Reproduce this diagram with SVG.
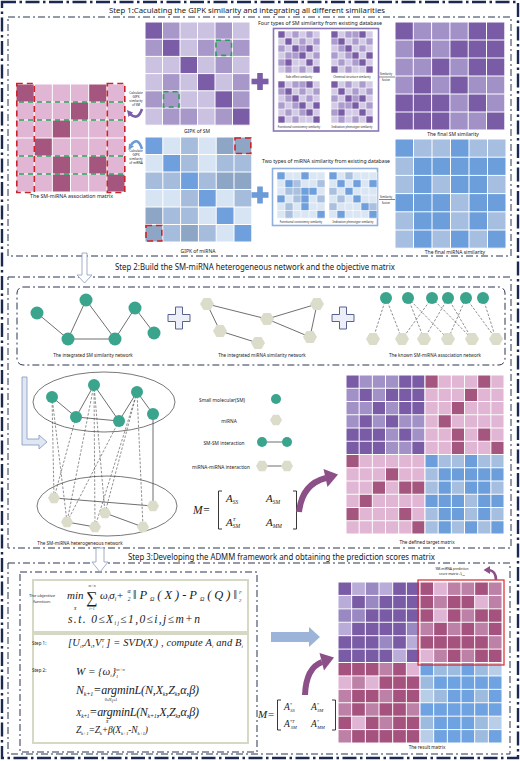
<svg xmlns="http://www.w3.org/2000/svg" width="520" height="761" viewBox="0 0 520 761">
<style>
.t{font-family:"Noto Sans","Liberation Sans",Arial,sans-serif;fill:#1a1a1a}
.m{font-family:"Liberation Serif","Times New Roman",serif;font-style:italic;fill:#1a1a1a}
.s{font-family:"Liberation Serif","Times New Roman",serif;fill:#1a1a1a}
.c{text-anchor:middle}
.box{fill:none;stroke:#2b3553;stroke-width:1;stroke-dasharray:7 3 2 3}
.outer{fill:none;stroke:#1b2950;stroke-width:2.4;stroke-dasharray:14 3.5 2.5 3.5}
.g{fill:none;stroke:#fff;stroke-width:1;vector-effect:non-scaling-stroke}
.gt{fill:none;stroke:#fff;stroke-width:0.6;vector-effect:non-scaling-stroke}
.e{stroke:#4a4a4a;stroke-width:0.8;fill:none}
.ed{stroke:#444;stroke-width:0.6;fill:none;stroke-dasharray:2.5 1.6}
.sm{fill:#3aa48d}
.mi{fill:#dcdccb}
.rd{fill:none;stroke:#cc2229;stroke-width:1.6;stroke-dasharray:6 4}
.gd{fill:none;stroke:#2a9d5c;stroke-width:1.6;stroke-dasharray:5 4}
.pan{fill:#fff;stroke:#d5d9c4;stroke-width:2}
</style>
<defs>
<path id="grid6" class="g" d="M1 0V6M2 0V6M3 0V6M4 0V6M5 0V6M0 1H6M0 2H6M0 3H6M0 4H6M0 5H6M0 0H6V6H0Z"/>
<path id="grid6t" class="gt" d="M1 0V6M2 0V6M3 0V6M4 0V6M5 0V6M0 1H6M0 2H6M0 3H6M0 4H6M0 5H6M0 0H6V6H0Z"/>
<polygon id="hx" points="7,0 3.5,6.1 -3.5,6.1 -7,0 -3.5,-6.1 3.5,-6.1"/>
<polygon id="hxs" points="6,0 3,5.2 -3,5.2 -6,0 -3,-5.2 3,-5.2"/>
<g id="assoc"><rect width="6" height="6" fill="#e1b5d4"/><path fill="#a5567f" d="M0 0h1v1h-1zM4 0h1v1h-1zM3 1h1v1h-1zM2 2h1v1h-1zM1 3h1v1h-1zM2 4h1v1h-1zM4 4h1v1h-1zM2 5h1v1h-1zM5 5h1v1h-1z"/><use href="#grid6"/></g>
<g id="assocT"><rect width="6" height="6" fill="#e1b5d4"/><path fill="#a5567f" d="M0 0h1v1h-1zM0 4h1v1h-1zM1 3h1v1h-1zM2 2h1v1h-1zM3 1h1v1h-1zM4 2h1v1h-1zM4 4h1v1h-1zM5 2h1v1h-1zM5 5h1v1h-1z"/><use href="#grid6"/></g>
<g id="smF"><rect width="6" height="6" fill="#a291c7"/><path fill="#7a5ca6" d="M0 0h1v1h-1zM4 0h2v1h-2zM1 1h1v1h-1zM3 1h3v1h-3zM2 2h1v1h-1zM4 2h2v1h-2zM1 3h1v1h-1zM3 3h1v1h-1zM0 4h3v1h-3zM4 4h1v1h-1zM0 5h3v1h-3zM5 5h1v1h-1z"/><use href="#grid6"/></g>
<g id="miF"><rect width="6" height="6" fill="#a6bfe1"/><path fill="#6b9edb" d="M0 0h1v1h-1zM3 0h1v1h-1zM1 1h5v1h-5zM1 2h1v1h-1zM3 2h2v1h-2zM0 3h3v1h-3zM4 3h2v1h-2zM1 4h2v1h-2zM4 4h1v1h-1zM1 5h1v1h-1zM3 5h1v1h-1zM5 5h1v1h-1z"/><use href="#grid6"/></g>
<g id="gSM"><rect width="6" height="6" fill="#cbc1e1"/><path fill="#a898c9" d="M1 0h1v1h-1zM4 0h1v1h-1zM0 1h1v1h-1zM3 1h3v1h-3zM4 2h1v1h-1zM1 3h1v1h-1zM5 3h1v1h-1zM0 4h2v1h-2zM5 4h1v1h-1zM1 5h2v1h-2zM4 5h1v1h-1z"/><path fill="#7b5ca7" d="M0 0h1v1h-1zM1 1h1v1h-1zM2 2h1v1h-1zM3 3h1v1h-1zM4 4h1v1h-1zM5 5h1v1h-1z"/><use href="#grid6"/></g>
<g id="gMI"><rect width="6" height="6" fill="#d6e4f4"/><path fill="#a5bcdc" d="M2 0h1v1h-1zM2 1h1v1h-1zM4 1h2v1h-2zM0 2h2v1h-2zM3 2h1v1h-1zM2 3h1v1h-1zM5 3h1v1h-1zM1 4h2v1h-2zM1 5h1v1h-1zM3 5h1v1h-1z"/><path fill="#8ea6c6" d="M4 0h2v1h-2zM4 2h2v1h-2zM0 4h1v1h-1zM0 5h1v1h-1zM2 5h1v1h-1z"/><path fill="#6f9fdc" d="M0 0h1v1h-1zM1 1h1v1h-1zM2 2h1v1h-1zM3 3h1v1h-1zM4 4h1v1h-1zM5 5h1v1h-1z"/><use href="#grid6"/></g>
<g id="miniA"><rect width="6" height="6" fill="#d3cae6"/><path fill="#ab9ccd" d="M2 0h1v1h-1zM4 0h1v1h-1zM3 1h1v1h-1zM5 1h1v1h-1zM0 2h1v1h-1zM3 2h1v1h-1zM1 3h2v1h-2zM5 3h1v1h-1zM0 4h1v1h-1zM1 5h1v1h-1zM3 5h1v1h-1z"/><path fill="#7a5ca6" d="M0 0h1v1h-1zM1 1h1v1h-1zM2 2h1v1h-1zM4 2h1v1h-1zM3 3h1v1h-1zM1 4h1v1h-1zM4 4h1v1h-1zM5 5h1v1h-1z"/><use href="#grid6t"/></g>
<g id="miniB"><rect width="6" height="6" fill="#d3cae6"/><path fill="#ab9ccd" d="M2 0h2v1h-2zM0 1h1v1h-1zM3 1h1v1h-1zM5 1h1v1h-1zM1 2h1v1h-1zM4 2h1v1h-1zM0 3h1v1h-1zM2 3h1v1h-1zM1 4h1v1h-1zM3 4h1v1h-1zM2 5h1v1h-1z"/><path fill="#7a5ca6" d="M0 0h1v1h-1zM4 0h1v1h-1zM1 1h1v1h-1zM2 2h1v1h-1zM3 3h1v1h-1zM5 3h1v1h-1zM4 4h1v1h-1zM0 5h1v1h-1zM5 5h1v1h-1z"/><use href="#grid6t"/></g>
<g id="miniC"><rect width="6" height="6" fill="#dbe6f4"/><path fill="#a9c0df" d="M2 1h1v1h-1zM5 1h1v1h-1zM1 2h2v1h-2zM2 3h1v1h-1zM5 3h1v1h-1zM1 4h1v1h-1zM1 5h1v1h-1z"/><path fill="#6f9fdc" d="M0 0h1v1h-1zM3 0h1v1h-1zM1 1h1v1h-1zM3 2h2v1h-2zM0 3h1v1h-1zM3 3h1v1h-1zM3 4h1v1h-1zM5 5h1v1h-1z"/><use href="#grid6t"/></g>
<g id="miniD"><rect width="6" height="6" fill="#dbe6f4"/><path fill="#a9c0df" d="M2 0h1v1h-1zM0 2h1v1h-1zM1 3h1v1h-1zM0 4h1v1h-1zM5 4h1v1h-1z"/><path fill="#6f9fdc" d="M0 0h1v1h-1zM1 1h1v1h-1zM3 1h1v1h-1zM5 1h1v1h-1zM2 2h1v1h-1zM3 3h1v1h-1zM4 4h1v1h-1zM1 5h1v1h-1zM5 5h1v1h-1z"/><use href="#grid6t"/></g>
<g id="resTL"><rect width="6" height="6" fill="#7a5ca6"/><path fill="#b9acd8" d="M1 0h1v1h-1zM3 0h1v1h-1zM0 1h1v1h-1zM0 3h1v1h-1zM5 4h1v1h-1zM4 5h1v1h-1z"/><path fill="#9a88c2" d="M2 0h1v1h-1zM2 1h1v1h-1zM0 2h2v1h-2zM5 3h1v1h-1zM3 4h1v1h-1z"/><use href="#grid6"/></g>
<g id="resTR"><rect width="6" height="6" fill="#a5527f"/><path fill="#dfb4d4" d="M1 0h1v1h-1zM4 1h1v1h-1zM1 2h1v1h-1zM0 5h1v1h-1z"/><path fill="#bd80a7" d="M2 0h2v1h-2zM5 0h1v1h-1zM1 1h1v1h-1zM5 1h1v1h-1zM3 2h1v1h-1zM0 3h1v1h-1zM2 3h1v1h-1zM4 3h1v1h-1zM5 4h1v1h-1zM1 5h1v1h-1zM3 5h1v1h-1z"/><use href="#grid6"/></g>
<g id="resBL"><rect width="6" height="6" fill="#a5527f"/><path fill="#dfb4d4" d="M5 0h1v1h-1zM0 1h1v1h-1zM2 1h1v1h-1zM1 4h1v1h-1z"/><path fill="#bd80a7" d="M3 0h1v1h-1zM1 1h1v1h-1zM0 2h1v1h-1zM3 2h1v1h-1zM0 3h1v1h-1zM2 3h1v1h-1zM5 3h1v1h-1zM3 4h1v1h-1zM0 5h1v1h-1z"/><use href="#grid6"/></g>
<g id="resBR"><rect width="6" height="6" fill="#6fa2e0"/><path fill="#9dbadf" d="M1 0h2v1h-2zM4 0h1v1h-1zM0 1h1v1h-1zM1 2h1v1h-1zM4 2h1v1h-1zM0 4h1v1h-1zM4 4h1v1h-1zM4 5h1v1h-1z"/><path fill="#b8cde7" d="M5 0h1v1h-1zM0 2h1v1h-1zM5 4h1v1h-1zM0 5h1v1h-1z"/><use href="#grid6"/></g>
</defs>
<rect width="520" height="761" fill="#fff"/>

<g id="frames">
<rect class="outer" x="2" y="2" width="516" height="756"/>
<rect class="box" x="8" y="17" width="503" height="239"/>
<rect class="box" x="8" y="277" width="503" height="271"/>
<rect class="box" x="8" y="563" width="502" height="191"/>
<rect class="box" x="17" y="287" width="488" height="78" rx="6"/>
<rect class="box" x="20" y="572" width="237" height="180"/>
<text class="t c" x="247" y="12.5" font-size="7.2" textLength="276" lengthAdjust="spacingAndGlyphs">Step 1:Caculating the GIPK similarity and integrating all different similarities</text>
<text class="t c" x="255" y="270" font-size="8.2" textLength="280" lengthAdjust="spacingAndGlyphs">Step 2:Build the SM-miRNA heterogeneous network and the objective matrix</text>
<text class="t c" x="281.5" y="559.5" font-size="8.2" textLength="307" lengthAdjust="spacingAndGlyphs">Step 3:Developing the ADMM framework and obtaining the prediction scores matrix</text>
</g>

<g id="assoc-matrix">
<use href="#assoc" transform="translate(16,84) scale(18.17,18)"/>
<rect class="rd" x="16.8" y="83.5" width="17.5" height="109" stroke-dasharray="10 6"/>
<rect class="rd" x="107.3" y="83.5" width="17.5" height="109" stroke-dasharray="10 6"/>
<path class="gd" d="M19 102H124M19 120H124M19 156H124M19 174H124" stroke-dasharray="10 5"/>
<text class="t c" x="71.5" y="198" font-size="5" textLength="83" lengthAdjust="spacingAndGlyphs">The SM-miRNA association matrix</text>
</g>

<g id="calc-labels">
<text class="t c" font-size="3.1"><tspan x="136" y="94">Calculate</tspan><tspan x="136" y="98">GIPK</tspan><tspan x="136" y="102">similarity</tspan><tspan x="136" y="106">of SM</tspan></text>
<text class="t c" font-size="3.1"><tspan x="136" y="152">Calculate</tspan><tspan x="136" y="156">GIPK</tspan><tspan x="136" y="160">similarity</tspan><tspan x="136" y="164">of miRNA</tspan></text>
</g>

<g id="gipk-sm">
<use href="#gSM" transform="translate(145,22) scale(17.5,17.2)"/>
<rect class="gd" x="216" y="40.2" width="15.5" height="15.2"/>
<rect class="gd" x="163.5" y="91.8" width="15.5" height="15.2"/>
<text class="t c" x="197" y="133" font-size="5">GIPK of SM</text>
</g>

<g id="plus-sm" fill="#7b5ea7"><rect x="251.5" y="78.7" width="17" height="5.6"/><rect x="257.2" y="73" width="5.6" height="17"/></g>

<g id="four-types">
<text class="t c" x="320" y="25" font-size="4.6" textLength="124" lengthAdjust="spacingAndGlyphs">Four types of SM similarity from existing database</text>
<rect x="273.5" y="28.5" width="105" height="102.5" fill="#fff" stroke="#8a76b6" stroke-width="1.6"/>
<use href="#miniA" transform="translate(278,31) scale(7,7)"/>
<use href="#miniB" transform="translate(331,31) scale(7,7)"/>
<use href="#miniB" transform="translate(278,81) scale(7,7)"/>
<use href="#miniA" transform="translate(331,81) scale(7,7)"/>
<text class="t c" x="299" y="77.8" font-size="2.8">Side effect similarity</text>
<text class="t c" x="352" y="77.8" font-size="2.8">Chemical structure similarity</text>
<text class="t c" x="299" y="128" font-size="2.8">Functional consistency similarity</text>
<text class="t c" x="352" y="128" font-size="2.8">Indication phenotype similarity</text>
</g>

<g id="final-sm">
<use href="#smF" transform="translate(395,22) scale(18.3,18)"/>
<text class="t c" x="453" y="136" font-size="5">The final SM similarity</text>
</g>

<g id="gipk-mi">
<use href="#gMI" transform="translate(145,137) scale(17.8,17.5)"/>
<rect class="rd" x="235" y="138" width="15.8" height="15.5"/>
<rect class="rd" x="146" y="225.5" width="15.8" height="15.5"/>
<text class="t c" x="198" y="252.5" font-size="5">GIPK of miRNA</text>
</g>

<g id="plus-mi" fill="#6c9bd8"><rect x="251.5" y="192.2" width="17" height="5.6"/><rect x="257.2" y="186.5" width="5.6" height="17"/></g>

<g id="two-types">
<text class="t c" x="326" y="163" font-size="4.6" textLength="128" lengthAdjust="spacingAndGlyphs">Two types of miRNA similarity from existing database</text>
<rect x="272.5" y="168.5" width="105" height="57" fill="#fff" stroke="#8fb0dc" stroke-width="1.6"/>
<use href="#miniC" transform="translate(277,172) scale(8,7.7)"/>
<use href="#miniD" transform="translate(329,172) scale(8,7.7)"/>
<text class="t c" x="301" y="223" font-size="2.8">Functional consistency similarity</text>
<text class="t c" x="353" y="223" font-size="2.8">Indication phenotype similarity</text>
</g>

<g id="final-mi">
<use href="#miF" transform="translate(395,139) scale(18.5,18.2)"/>
<text class="t c" x="455" y="254" font-size="5">The final miRNA similarity</text>
</g>

<g id="fusion-labels">
<text class="t c" x="386" y="74.5" font-size="2.8">Similarity</text>
<text class="t c" x="386" y="81" font-size="2.8">fusion</text>
<text class="t c" x="386" y="197.5" font-size="2.8">Similarity</text>
<text class="t c" x="386" y="204" font-size="2.8">fusion</text>
</g>

<g id="sm-network">
<path class="e" d="M37,313L68,339L86,300L115,339L135,308L154,333M68,339L115,339"/>
<g class="sm"><circle cx="37" cy="313" r="6.5"/><circle cx="86" cy="300" r="6.5"/><circle cx="68" cy="339" r="6.5"/><circle cx="115" cy="339" r="6.5"/><circle cx="135" cy="308" r="6.5"/><circle cx="154" cy="333" r="6.5"/></g>
<text class="t c" x="93" y="357" font-size="4.6">The integrated SM similarity network</text>
</g>
<g id="plus-a"><path d="M175.5,307H182.5V314.5H190V321.5H182.5V329H175.5V321.5H168V314.5H175.5Z" fill="#eceef8" stroke="#59628c" stroke-width="1"/></g>
<g id="mi-network">
<path class="e" d="M207,304L267,319L317,304L310,337L267,319M207,304L220,331L258,343"/>
<g class="mi"><use href="#hx" x="207" y="304"/><use href="#hx" x="267" y="319"/><use href="#hx" x="220" y="331"/><use href="#hx" x="258" y="343"/><use href="#hx" x="317" y="304"/><use href="#hx" x="310" y="337"/></g>
<text class="t c" x="262" y="357" font-size="4.6">The integrated miRNA similarity network</text>
</g>
<g id="plus-b"><path d="M339.5,307H346.5V314.5H354V321.5H346.5V329H339.5V321.5H332V314.5H339.5Z" fill="#eceef8" stroke="#59628c" stroke-width="1"/></g>
<g id="bipartite">
<path class="ed" d="M386,298L373,339M386,298L402,339M408,298L424,339M408,298L448,339M432,298L402,339M432,298L472,339M448,298L424,339M448,298L472,339M466,298L448,339M466,298L496,339M483,298L496,339"/>
<g class="sm"><circle cx="386" cy="298" r="6"/><circle cx="408" cy="298" r="6"/><circle cx="432" cy="298" r="6"/><circle cx="448" cy="298" r="6"/><circle cx="466" cy="298" r="6"/><circle cx="483" cy="298" r="6"/></g>
<g class="mi"><use href="#hx" x="373" y="339"/><use href="#hx" x="402" y="339"/><use href="#hx" x="424" y="339"/><use href="#hx" x="448" y="339"/><use href="#hx" x="472" y="339"/><use href="#hx" x="496" y="339"/></g>
<text class="t c" x="435" y="357" font-size="4.6">The known SM-miRNA association network</text>
</g>

<g id="hetero-network">
<ellipse cx="104" cy="402" rx="71" ry="30" fill="none" stroke="#555" stroke-width="0.8"/>
<ellipse cx="107" cy="506" rx="70" ry="30" fill="none" stroke="#555" stroke-width="0.8"/>
<path class="ed" d="M52,397L54,498M52,397L67,522M94,385L67,522M94,385L95,527M94,385L105,513M76,417L54,498M119,421L67,522M137,392L105,513M137,392L95,527M137,392L143,527"/>
<path class="e" d="M52,397L76,417L94,385L119,421L137,392L153,414M76,417L119,421M153,414L153,506M54,498L153,506M67,522L95,527M105,513L143,527"/>
<g class="sm"><circle cx="52" cy="397" r="6"/><circle cx="94" cy="385" r="6"/><circle cx="76" cy="417" r="6"/><circle cx="119" cy="421" r="6"/><circle cx="137" cy="392" r="6"/><circle cx="153" cy="414" r="6"/></g>
<g class="mi"><use href="#hxs" x="54" y="498"/><use href="#hxs" x="67" y="522"/><use href="#hxs" x="95" y="527"/><use href="#hxs" x="105" y="513"/><use href="#hxs" x="143" y="527"/><use href="#hxs" x="153" y="506"/></g>
<text class="t c" x="80" y="545" font-size="4.6">The SM-miRNA heterogeneous network</text>
</g>

<g id="legend">
<text class="t c" x="222" y="402" font-size="4.8">Small molecular(SM)</text>
<text class="t c" x="229" y="423" font-size="4.8">miRNA</text>
<text class="t c" x="224" y="445" font-size="4.8">SM-SM interaction</text>
<text class="t c" x="221" y="469" font-size="4.8">miRNA-miRNA interaction</text>
<circle class="sm" cx="276" cy="399" r="5"/>
<use class="mi" href="#hxs" x="276" y="420"/>
<path class="e" d="M262,442H287M262,466H287"/>
<circle class="sm" cx="262" cy="442" r="5"/><circle class="sm" cx="287" cy="442" r="5"/>
<use class="mi" href="#hxs" x="262" y="466"/><use class="mi" href="#hxs" x="287" y="466"/>
</g>

<g id="m-formula-2">
<text class="m" x="193" y="514" font-size="11.5">M=</text>
<path d="M222,491H218.5V529H222M293,491H296.5V529H293" fill="none" stroke="#222" stroke-width="0.9"/>
<text class="m" x="226" y="502" font-size="11">A<tspan font-size="5.5" dy="2">SS</tspan></text>
<text class="m" x="226" y="526" font-size="11">A<tspan font-size="5" dy="-5">T</tspan><tspan font-size="5.5" dx="-2.8" dy="7">SM</tspan></text>
<text class="m" x="266" y="502" font-size="11">A<tspan font-size="5.5" dy="2">SM</tspan></text>
<text class="m" x="266" y="526" font-size="11">A<tspan font-size="5.5" dy="2">MM</tspan></text>
</g>

<g id="target-matrix">
<use href="#smF" transform="translate(346,375) scale(13.17,13.25)"/>
<use href="#assoc" transform="translate(425,375) scale(13.17,13.25)"/>
<use href="#assocT" transform="translate(346,454.5) scale(13.17,13.25)"/>
<use href="#miF" transform="translate(425,454.5) scale(13.17,13.25)"/>
<text class="t c" x="427" y="543.5" font-size="4.6">The defined target matrix</text>
</g>

<g id="formula-box">
<rect class="pan" x="33" y="580" width="215" height="52"/>
<rect class="pan" x="33" y="634" width="215" height="109"/>
<text class="t c" x="42" y="597" font-size="4.2">The objective</text>
<text class="t c" x="42" y="603" font-size="4.2">function:</text>
<text class="m" x="67" y="599" font-size="11">min</text>
<text class="m c" x="75" y="610" font-size="4.5">X</text>
<text class="s c" x="92" y="603" font-size="16">∑</text>
<text class="m c" x="92" y="587" font-size="3.8">m+n</text>
<text class="m c" x="92" y="609.5" font-size="3.8">i=1</text>
<text class="m" x="100" y="599" font-size="11">ω<tspan font-size="5.5" dy="2">i</tspan><tspan dy="-2">σ</tspan><tspan font-size="5.5" dy="2">i</tspan><tspan dy="-2">+</tspan></text>
<text class="m c" x="129" y="593" font-size="6">α</text>
<text class="m c" x="129" y="601" font-size="5.5">2</text>
<text class="m" x="133" y="599" font-size="12.5" textLength="104" lengthAdjust="spacing">‖P<tspan font-size="6" dy="2">Ω</tspan><tspan dy="-2">(X)-P</tspan><tspan font-size="6" dy="2">Ω</tspan><tspan dy="-2">(Q)‖</tspan></text>
<text class="m" x="239" y="594" font-size="4.5">F</text>
<text class="m" x="239" y="602" font-size="4.5">2</text>
<text class="m" x="68" y="623" font-size="11.5" textLength="132" lengthAdjust="spacing">s.t. 0≤X<tspan font-size="5.5" dy="2">ij</tspan><tspan dy="-2">≤1,0≤i,j≤m+n</tspan></text>
<text class="t" x="32" y="644.5" font-size="4.5">Step 1:</text>
<text class="m" x="68" y="646" font-size="10.5" textLength="175" lengthAdjust="spacing">[U<tspan font-size="5" dy="2">i</tspan><tspan dy="-2">,Λ</tspan><tspan font-size="5" dy="2">i</tspan><tspan dy="-2">,V</tspan><tspan font-size="5" dy="-4">T</tspan><tspan font-size="5" dx="-2" dy="6">i</tspan><tspan dy="-2"> ] = SVD(X</tspan><tspan font-size="5" dy="2">i</tspan><tspan dy="-2">) , compute A</tspan><tspan font-size="5" dy="2">i</tspan><tspan dy="-2"> and B</tspan><tspan font-size="5" dy="2">i</tspan></text>
<text class="t" x="32" y="672" font-size="4.5">Step 2:</text>
<text class="m" x="76" y="675" font-size="11">W = {ω<tspan font-size="5" dy="2">i</tspan><tspan dy="-2">}</tspan><tspan font-size="4.5" dy="2.5">1</tspan><tspan font-size="4.5" dx="-2" dy="-7">m+n</tspan></text>
<text class="m" x="76" y="694" font-size="12" textLength="123" lengthAdjust="spacing">N<tspan font-size="6" dy="2">k+1</tspan><tspan dy="-2">=argminL(N,X</tspan><tspan font-size="6" dy="2">k</tspan><tspan dy="-2">,Z</tspan><tspan font-size="6" dy="2">k</tspan><tspan dy="-2">,α,β)</tspan></text>
<text class="m c" x="111" y="701" font-size="4">0≤N<tspan font-size="3" dy="1">ij</tspan><tspan dy="-1">≤1</tspan></text>
<text class="m" x="76" y="716" font-size="12" textLength="123" lengthAdjust="spacing"><tspan font-size="9">X</tspan><tspan font-size="5.5" dy="2">k+1</tspan><tspan dy="-2">=argminL(N</tspan><tspan font-size="6" dy="2">k+1</tspan><tspan dy="-2">,X,Z</tspan><tspan font-size="6" dy="2">k</tspan><tspan dy="-2">,α,β)</tspan></text>
<text class="m c" x="107" y="723" font-size="4.5">X</text>
<text class="m" x="76" y="733" font-size="9.5" textLength="72" lengthAdjust="spacing">Z<tspan font-size="5" dy="2">k+1</tspan><tspan dy="-2">=Z</tspan><tspan font-size="5" dy="2">k</tspan><tspan dy="-2">+β(X</tspan><tspan font-size="5" dy="2">k+1</tspan><tspan dy="-2">-N</tspan><tspan font-size="5" dy="2">k+1</tspan><tspan dy="-2">)</tspan></text>
</g>

<g id="m-formula-3">
<text class="m" x="258" y="718" font-size="11">M=</text>
<path d="M281,700H277.5V730H281M332,700H335.5V730H332" fill="none" stroke="#222" stroke-width="0.9"/>
<text class="m" x="284" y="710" font-size="9.5">A<tspan font-size="4.5" dy="-4">*</tspan><tspan font-size="4.5" dx="-1.8" dy="6">SS</tspan></text>
<text class="m" x="311" y="710" font-size="9.5">A<tspan font-size="4.5" dy="-4">*</tspan><tspan font-size="4.5" dx="-1.8" dy="6">SM</tspan></text>
<text class="m" x="284" y="727" font-size="9.5">A<tspan font-size="4.5" dy="-4">*T</tspan><tspan font-size="4.5" dx="-3.8" dy="6">SM</tspan></text>
<text class="m" x="311" y="727" font-size="9.5">A<tspan font-size="4.5" dy="-4">*</tspan><tspan font-size="4.5" dx="-1.8" dy="6">MM</tspan></text>
</g>

<g id="result-matrix">
<use href="#resTL" transform="translate(338,582) scale(13.67,13.42)"/>
<use href="#resTR" transform="translate(420,582) scale(13.67,13.42)"/>
<use href="#resBL" transform="translate(338,662.5) scale(13.67,13.42)"/>
<use href="#resBR" transform="translate(420,662.5) scale(13.67,13.42)"/>
<rect x="418" y="580" width="86" height="85" fill="none" stroke="#d9252a" stroke-width="1.2"/>
<text class="t c" x="452" y="569.5" font-size="3.3">SM-miRNA prediction</text>
<text class="t c" x="452" y="575" font-size="3.3">score matrix <tspan class="m" font-size="4">A</tspan><tspan class="m" font-size="2.5" dy="1">SM</tspan></text>
<text class="t c" x="427" y="749" font-size="4.6">The result matrix</text>
</g>

<g id="connectors">
<path d="M142,109Q138,121 130,114" fill="none" stroke="#7b5ea7" stroke-width="2.6"/>
<polygon points="127,110 133,112.5 128.5,117" fill="#7b5ea7"/>
<path d="M142,149Q138,136 131,145" fill="none" stroke="#6c9bd8" stroke-width="2.6"/>
<polygon points="128.5,150 129,143.5 134,146.5" fill="#6c9bd8"/>
<path d="M379,77H395M379,199.5H395" stroke="#333" stroke-width="0.6"/>
<path d="M82,253H87V275H92L84.5,283L77,275H82Z" fill="#fff" stroke="#8a9ab8" stroke-width="0.8"/>
<path d="M22,377H27V439H39V435L47,442L39,449V445H22Z" fill="#dfe7f3" stroke="#8497bd" stroke-width="0.8"/>
<path d="M299,512Q302,484 326,478" fill="none" stroke="#8c4f88" stroke-width="6"/>
<polygon points="323.5,469 338,474.5 327.5,487" fill="#8c4f88"/>
<path d="M96,548H104V562H108L100,572L92,562H96Z" fill="#fff" stroke="#8a9ab8" stroke-width="0.8"/>
<path d="M271,632H309V627L320,637L309,647V642H271Z" fill="#9bb4d8"/>
<path d="M305,695Q306,668 322,662" fill="none" stroke="#8c4f88" stroke-width="6"/>
<polygon points="319.5,653 334,657.5 324,670.5" fill="#8c4f88"/>
<path d="M496,580Q496,571 489,570" fill="none" stroke="#8c4f88" stroke-width="2.6"/>
<polygon points="483.5,570 490,566 490,574" fill="#8c4f88"/>
</g>
</svg>
